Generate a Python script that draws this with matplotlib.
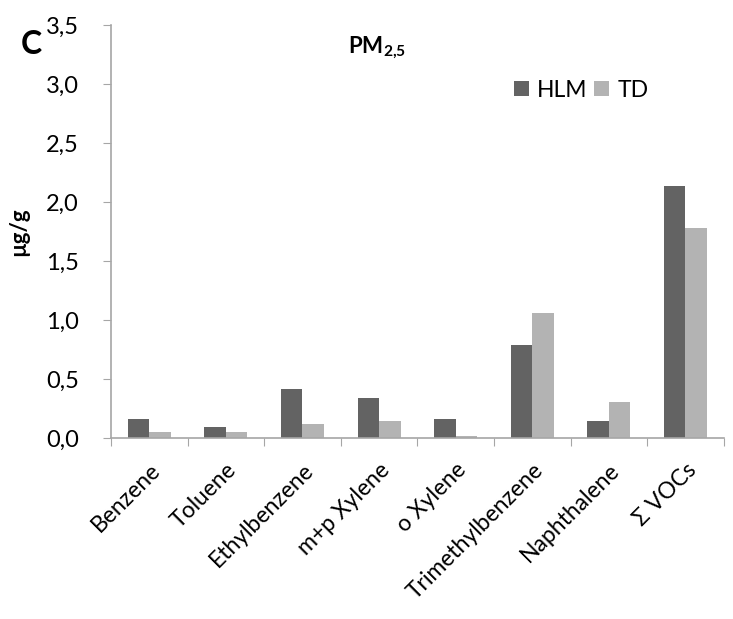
import matplotlib
matplotlib.use("Agg")
import matplotlib.pyplot as plt
import numpy as np
from matplotlib.ticker import FuncFormatter

plt.rcParams['font.family'] = ['Lato', 'DejaVu Sans']
plt.rcParams['mathtext.fontset'] = 'custom'
plt.rcParams['mathtext.rm'] = 'Lato'
plt.rcParams['mathtext.bf'] = 'Lato:bold'

compounds = ['Benzene', 'Toluene', 'Ethylbenzene', 'm+p Xylene', 'o Xylene',
             'Trimethylbenzene', 'Naphthalene', 'Σ VOCs']
hlm = [0.16, 0.10, 0.42, 0.345, 0.165, 0.79, 0.145, 2.14]
td = [0.05, 0.05, 0.125, 0.145, 0.02, 1.065, 0.31, 1.785]

dark = '#636363'
light = '#b3b3b3'
axis_grey = '#a6a6a6'

fig = plt.figure(figsize=(7.33, 6.19), dpi=100)
ax = fig.add_axes([0.1514, 0.2919, 0.836, 0.6677])

x = np.arange(len(compounds))
w = 0.28
ax.bar(x - w / 2, hlm, w, color=dark, label='HLM')
ax.bar(x + w / 2, td, w, color=light, label='TD')

ax.set_xlim(-0.5, len(compounds) - 0.5)
ax.set_ylim(0, 3.5)
ax.set_yticks(np.arange(0, 3.51, 0.5))
ax.yaxis.set_major_formatter(FuncFormatter(lambda v, p: f'{v:.1f}'.replace('.', ',')))

# category boundary ticks on x, labels at centres
ax.set_xticks(np.arange(-0.5, len(compounds), 1.0))
ax.set_xticklabels([])
ax.set_xticks(x, minor=True)
ax.set_xticklabels(compounds, minor=True, rotation=45, ha='right',
                   rotation_mode='anchor', fontsize=16.5)
ax.tick_params(axis='x', which='minor', length=0, pad=15)
ax.tick_params(axis='x', which='major', length=6, color=axis_grey, direction='out')
ax.tick_params(axis='y', length=6, color=axis_grey, labelsize=17, pad=17)

for s in ['top', 'right']:
    ax.spines[s].set_visible(False)
for s in ['left', 'bottom']:
    ax.spines[s].set_color(axis_grey)
    ax.spines[s].set_linewidth(1.2)

ax.set_ylabel('µg/g', fontsize=16, fontweight='bold', labelpad=12)

fig.text(0.475, 0.922, r'PM$_{\mathbf{2{,}5}}$', fontsize=16, fontweight='bold',
         ha='left', va='center')
fig.text(0.028, 0.928, 'C', fontsize=23, fontweight='bold', ha='left', va='center')

ax.legend(loc='upper left', bbox_to_anchor=(0.643, 0.89), ncol=2, frameon=False,
          fontsize=16.5, handlelength=0.65, handleheight=0.65, handletextpad=0.35,
          columnspacing=0.3, borderaxespad=0)

fig.savefig('out.png', dpi=100)
